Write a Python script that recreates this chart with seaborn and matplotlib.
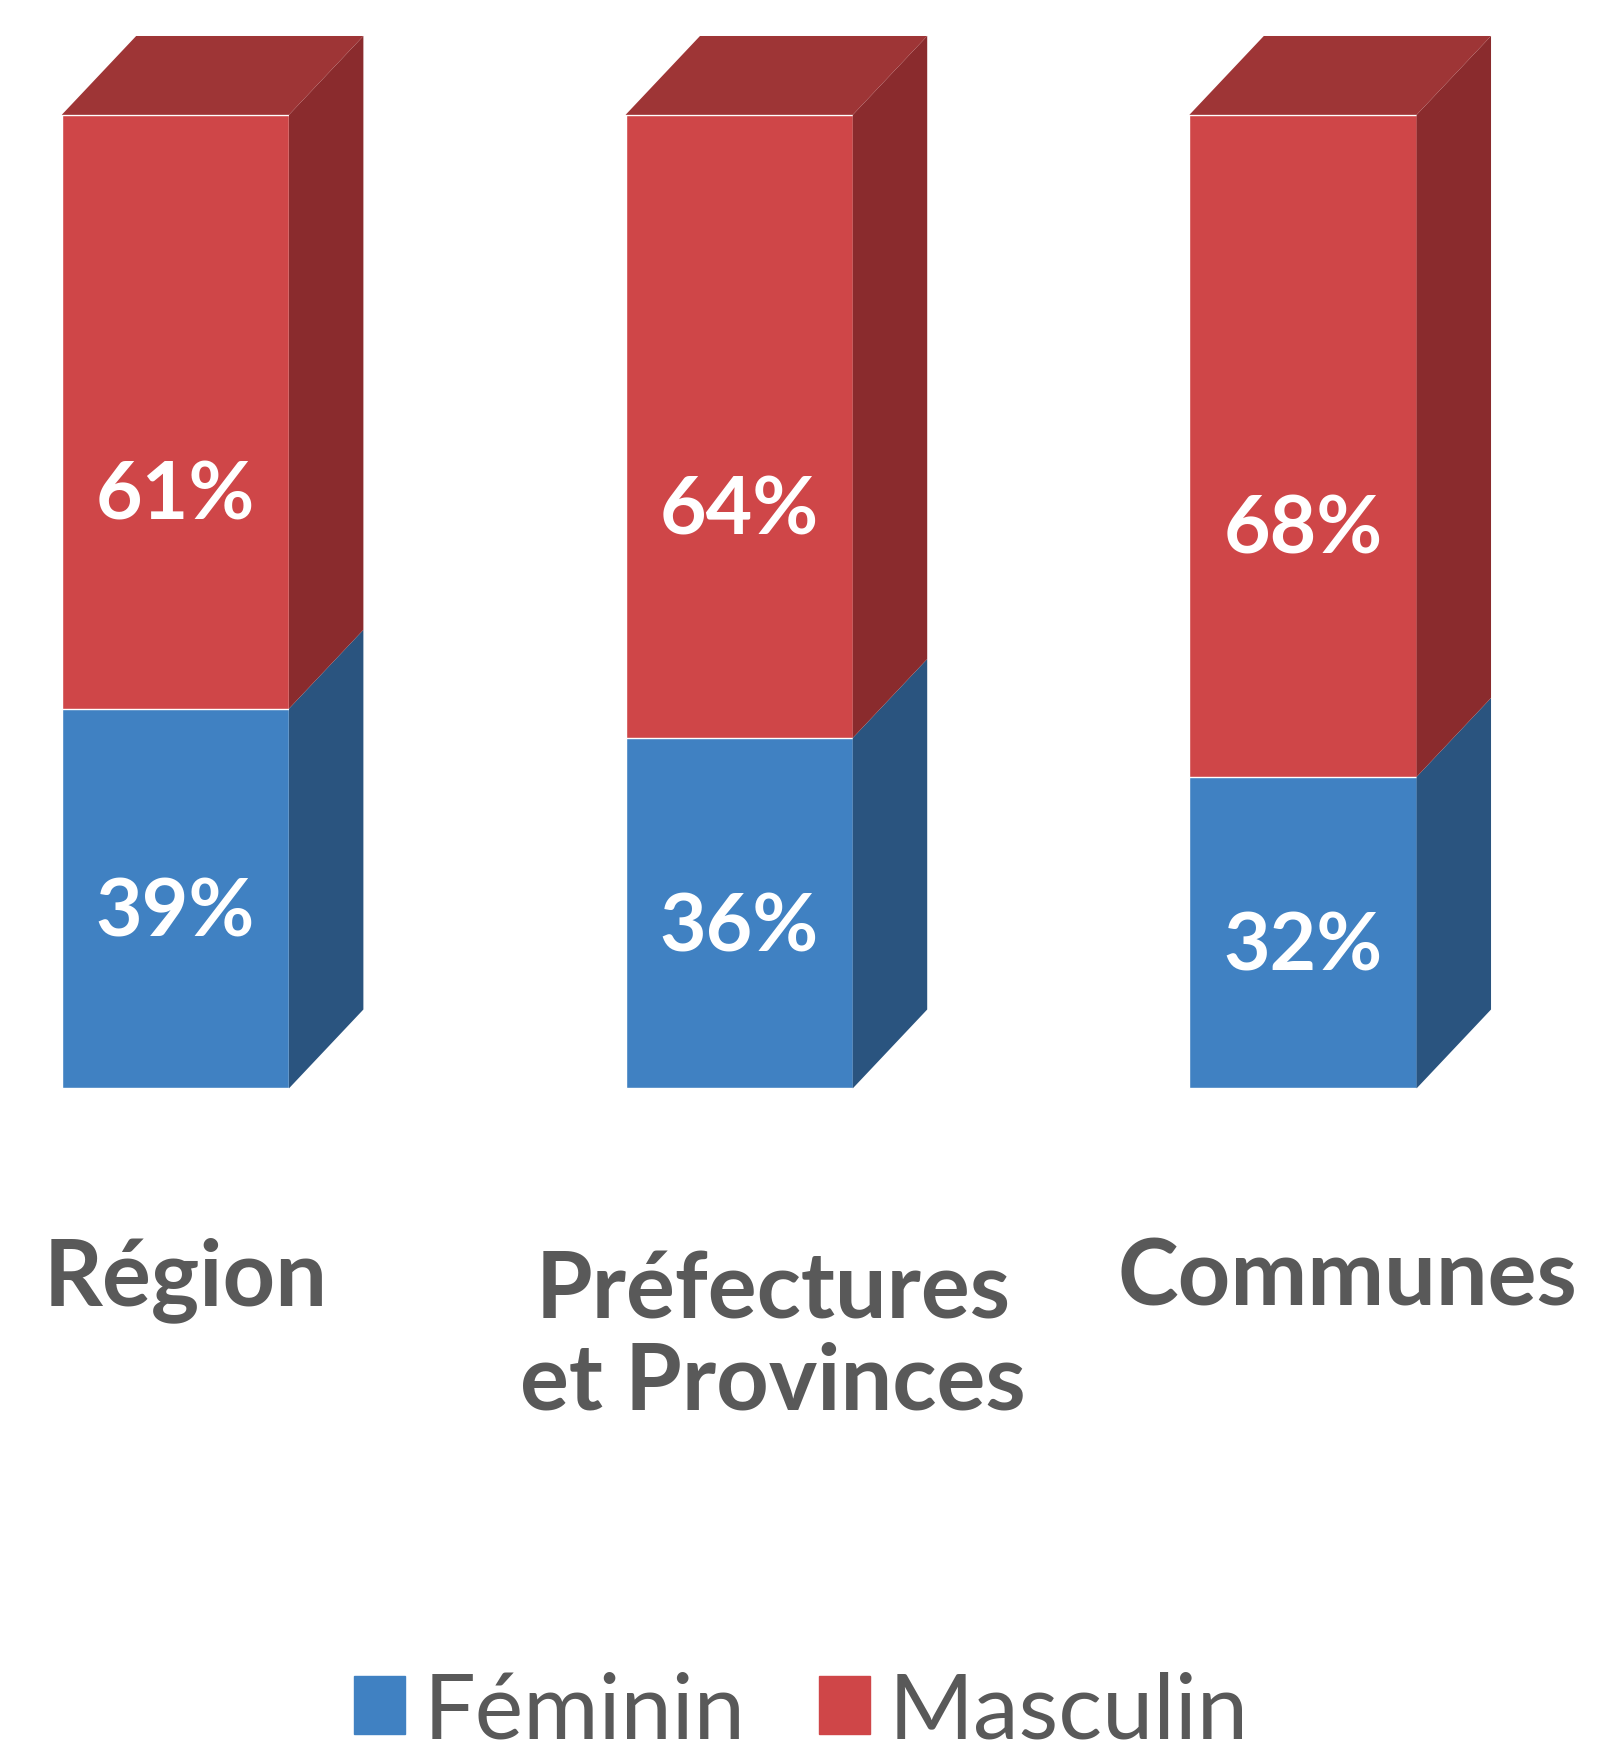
import pandas as pd
import matplotlib.pyplot as plt
from matplotlib.patches import Patch
import seaborn as sns

categories = ["Région", "Préfectures\net Provinces", "Communes"]
feminin = [39, 36, 32]
masculin = [61, 64, 68]
series = ["Féminin", "Masculin"]

blue, blue_side = "#4081C2", "#2A547F"
red, red_side, red_top = "#CF4648", "#8A2B2D", "#9E3536"
grey = "#595959"


def main():
    sns.set_theme(style="white")
    plt.rcParams["font.family"] = ["Lato", "DejaVu Sans"]

    df = pd.DataFrame({"cat": categories, "fem": feminin, "masc": masculin})
    df["total"] = df["fem"] + df["masc"]

    fig = plt.figure(figsize=(15.99, 17.65), dpi=100)
    ax = fig.add_axes([0, 0, 1, 1])

    # front faces: full bar in red, feminine part over it in blue
    sns.barplot(data=df, x="cat", y="total", color=red, saturation=1, width=0.403, ax=ax)
    sns.barplot(data=df, x="cat", y="fem", color=blue, saturation=1, width=0.403, ax=ax)

    red_bars = ax.patches[:3]
    blue_bars = ax.patches[3:6]

    # fake depth
    dx, dy = 0.132, 8.1
    for rb, bb in zip(red_bars, blue_bars):
        x0, x1 = rb.get_x(), rb.get_x() + rb.get_width()
        mid, top = bb.get_height(), rb.get_height()
        ax.fill([x1, x1 + dx, x1 + dx, x1], [0, dy, mid + dy, mid], color=blue_side, lw=0)
        ax.fill([x1, x1 + dx, x1 + dx, x1], [mid, mid + dy, top + dy, top], color=red_side, lw=0)
        ax.fill([x0, x0 + dx, x1 + dx, x1], [top, top + dy, top + dy, top], color=red_top, lw=0)

        xc = x0 + rb.get_width() / 2
        ax.text(xc, mid / 2 - 3.8, f"{mid:.0f}%", ha="center", va="baseline",
                color="white", fontsize=58, fontweight="bold")
        ax.text(xc, (mid + top) / 2 - 11, f"{top - mid:.0f}%", ha="center", va="baseline",
                color="white", fontsize=58, fontweight="bold")

    # category labels (placed by hand like the original)
    label_pos = [(0.018, -22.2), (1.06, -32.9), (2.079, -22.2)]
    for name, (lx, ly) in zip(categories, label_pos):
        ax.text(lx, ly, name, ha="center", va="baseline", color=grey,
                fontsize=66, fontweight="bold", linespacing=1.1)

    ax.set_xlim(-0.311, 2.525)
    ax.set_ylim(-69.4, 111.9)
    ax.axis("off")

    handles = [Patch(color=blue), Patch(color=red)]
    fig.legend(handles, series, loc="lower center", bbox_to_anchor=(0.501, -0.02),
               ncol=2, frameon=False, fontsize=66, labelcolor=grey,
               handlelength=0.56, handleheight=0.6, handletextpad=0.2,
               columnspacing=0.8, borderpad=0)

    fig.savefig("out.png", dpi=100)
    plt.close(fig)


if __name__ == "__main__":
    main()
